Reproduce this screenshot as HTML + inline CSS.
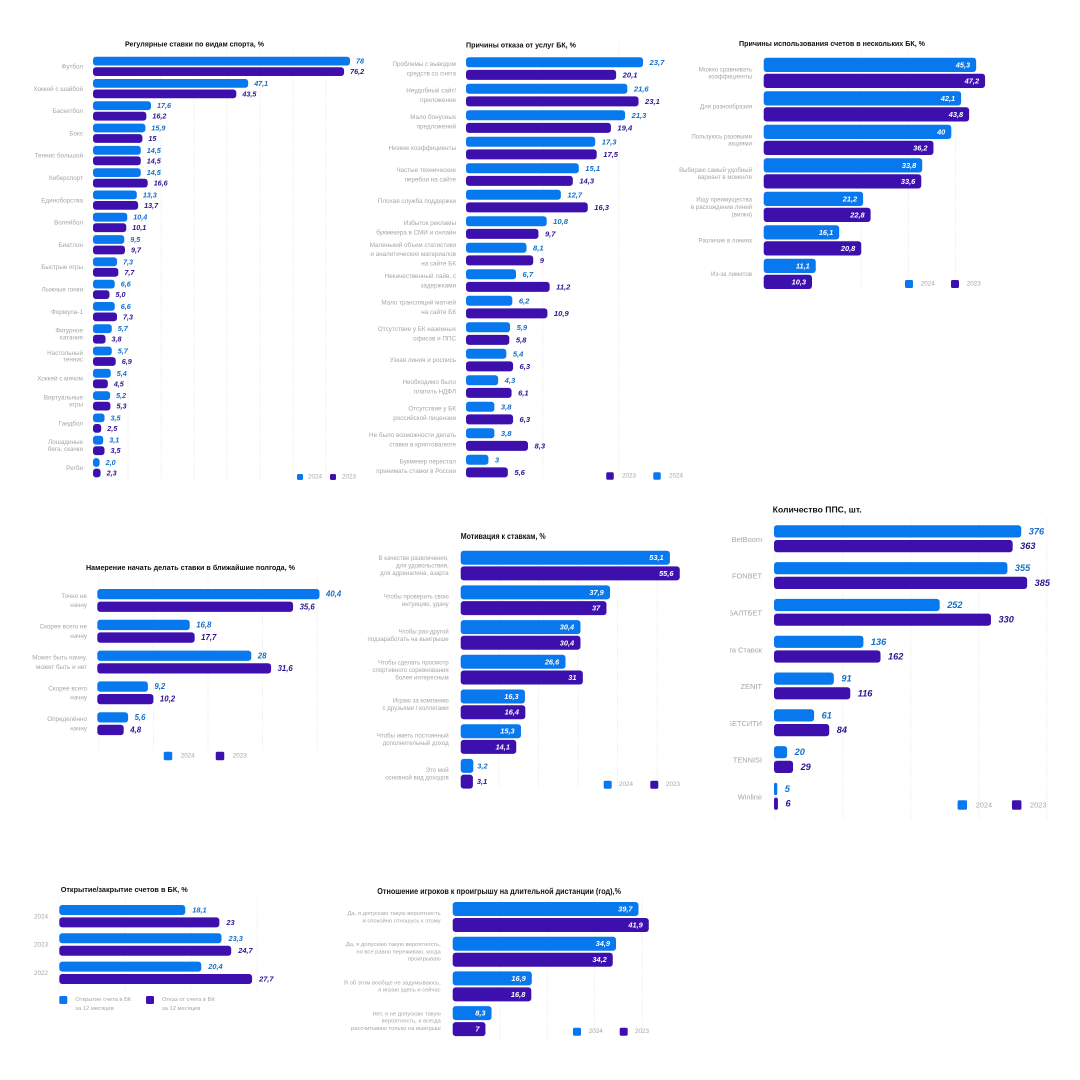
<!DOCTYPE html>
<html lang="ru">
<head>
<meta charset="utf-8">
<title>Исследование рынка ставок: сводные диаграммы</title>
<style>
  html, body { margin: 0; padding: 0; background: #ffffff; }
  svg { display: block; width: 1080px; height: 1080px; font-family: "Liberation Sans", "Noto Sans CJK JP", sans-serif; }
</style>
</head>
<body>
<svg id="charts" xmlns="http://www.w3.org/2000/svg" width="1080" height="1080" viewBox="0 0 1080 1080">
  <rect x="0" y="0" width="1080" height="1080" fill="#ffffff"></rect>
  <defs>
    <clipPath id="pps-label-clip"><rect x="730" y="500" width="50" height="330"></rect></clipPath>
  </defs>
</svg>
<script>
/* ---------- data: sports ---------- */
const sportCategories = ["Футбол","Хоккей с шайбой","Баскетбол","Бокс","Теннис большой","Киберспорт","Единоборства","Волейбол","Биатлон","Быстрые игры","Лыжные гонки","Формула-1","Фигурное|катание","Настольный|теннис","Хоккей с мячом","Виртуальные|игры","Гандбол","Лошадиные|бега, скачки","Регби"];
const sportValues2024 = [78,47.1,17.6,15.9,14.5,14.5,13.3,10.4,9.5,7.3,6.6,6.6,5.7,5.7,5.4,5.2,3.5,3.1,2.0];
const sportValues2023 = [76.2,43.5,16.2,15,14.5,16.6,13.7,10.1,9.7,7.7,5.0,7.3,3.8,6.9,4.5,5.3,2.5,3.5,2.3];
const sportTicks = [0,10,20,30,40,50,60,70];

/* ---------- data: refusal reasons ---------- */
const refusalCategories = ["Проблемы с выводом|средств со счета","Неудобный сайт/|приложение","Мало бонусных|предложений","Низкие коэффициенты","Частые технические|перебои на сайте","Плохая служба поддержки","Избыток рекламы|букмекера в СМИ и онлайн","Маленький объем статистики|и аналитических материалов|на сайте БК","Некачественный лайв, с|задержками","Мало трансляций матчей|на сайте БК","Отсутствие у БК наземных|офисов и ППС","Узкая линия и роспись","Необходимо было|платить НДФЛ","Отсутствие у БК|российской лицензии","Не было возможности делать|ставки в криптовалюте","Букмекер перестал|принимать ставки в России"];
const refusalValues2024 = [23.7,21.6,21.3,17.3,15.1,12.7,10.8,8.1,6.7,6.2,5.9,5.4,4.3,3.8,3.8,3];
const refusalValues2023 = [20.1,23.1,19.4,17.5,14.3,16.3,9.7,9,11.2,10.9,5.8,6.3,6.1,6.3,8.3,5.6];
const refusalTicks = [0,10,20];

/* ---------- data: several accounts ---------- */
const accountsCategories = ["Можно сравнивать|коэффициенты","Для разнообразия","Пользуюсь разовыми|акциями","Выбираю самый удобный|вариант в моменте","Ищу преимущества|в расхождении линий|(вилки)","Различие в линиях","Из-за лимитов"];
const accountsValues2024 = [45.3,42.1,40,33.8,21.2,16.1,11.1];
const accountsValues2023 = [47.2,43.8,36.2,33.6,22.8,20.8,10.3];
const accountsTicks = [20,30,40];

/* ---------- data: intention ---------- */
const intentCategories = ["Точно не|начну","Скорее всего не|начну","Может быть начну,|может быть и нет","Скорее всего|начну","Определённо|начну"];
const intentValues2024 = [40.4,16.8,28,9.2,5.6];
const intentValues2023 = [35.6,17.7,31.6,10.2,4.8];
const intentTicks = [0,10,20,30,40];

/* ---------- data: motivation ---------- */
const motiveCategories = ["В качестве развлечения,|для удовольствия,|для адреналина, азарта","Чтобы проверить свою|интуицию, удачу","Чтобы раз-другой|подзаработать на выигрыше","Чтобы сделать просмотр|спортивного соревнования|более интересным","Играю за компанию|с друзьями / коллегами","Чтобы иметь постоянный|дополнительный доход","Это мой|основной вид доходов"];
const motiveValues2024 = [53.1,37.9,30.4,26.6,16.3,15.3,3.2];
const motiveValues2023 = [55.6,37,30.4,31,16.4,14.1,3.1];
const motiveTicks = [10,20,30,40,50];

/* ---------- data: betting shops ---------- */
const shopCategories = ["BetBoom","FONBET","БАЛТБЕТ","Лига Ставок","ZENIT","БЕТСИТИ","TENNISI","Winline"];
const shopValues2024 = [376,355,252,136,91,61,20,5];
const shopValues2023 = [363,385,330,162,116,84,29,6];
const shopTicks = [0,100,200,300,400];

/* ---------- data: open / close accounts ---------- */
const openCategories = ["2024","2023","2022"];
const openValues = [18.1,23.3,20.4];
const closeValues = [23,24.7,27.7];
const openTicks = [0,10,20,30];

/* ---------- data: attitude to losing ---------- */
const lossCategories = ["Да, я допускаю такую вероятность|и спокойно отношусь к этому","Да, я допускаю такую вероятность,|но все равно переживаю, когда|проигрываю","Я об этом вообще не задумываюсь,|я играю здесь и сейчас","Нет, я не допускаю такую|вероятность, я всегда|рассчитываю только на выигрыш"];
const lossValues2024 = [39.7,34.9,16.9,8.3];
const lossValues2023 = [41.9,34.2,16.8,7];
const lossTicks = [10,20,30,40];

/* ---------- styles ---------- */
const BLUE = "#0878ee";
const PURPLE = "#3d10ae";
const BLUE_TEXT = "#1470c8";
const PURPLE_TEXT = "#2e1492";
const GREY_TEXT = "#a6a6a6";
const GRID = "#e4e4e4";

const charts = [
  { id:"sports", title:"Регулярные ставки по видам спорта, %", titleX:125, titleY:44, titleW:139, titleSize:7.5,
    cats:sportCategories, a:sportValues2024, b:sportValues2023, ticks:sportTicks,
    x0:93, scale:3.295, top:56.7, pitch:22.3, h:8.8, off:10.5, radius:3,
    gridX0:95, gridScale:3.3, gridTop:49, gridBottom:480,
    catX:83, catLh:6.7, catSize:6.3, valSize:7.2, valOff:6, oneDecimalBelow:10,
    legendY:477, swatch:6, legendSize:6.3,
    legend:[{c:BLUE,cx:300,tx:308,t:"2024"},{c:PURPLE,cx:333,tx:342,t:"2023"}] },
  { id:"refusal", title:"Причины отказа от услуг БК, %", titleX:466, titleY:45, titleW:110, titleSize:7.5,
    cats:refusalCategories, a:refusalValues2024, b:refusalValues2023, ticks:refusalTicks,
    x0:466, scale:7.47, top:57.3, pitch:26.5, h:10, off:12.6, radius:3,
    gridX0:467, gridScale:7.6, gridTop:43, gridBottom:478,
    catX:456, catLh:9.3, catSize:6.3, valSize:7.6, valOff:6.5,
    legendY:476, swatch:7.5, legendSize:6.3,
    legend:[{c:PURPLE,cx:610,tx:622,t:"2023"},{c:BLUE,cx:657,tx:669,t:"2024"}] },
  { id:"accounts", title:"Причины использования счетов в нескольких БК, %", titleX:739, titleY:43.3, titleW:186, titleSize:7.5,
    cats:accountsCategories, a:accountsValues2024, b:accountsValues2023, ticks:accountsTicks,
    x0:763.7, scale:4.69, top:57.7, pitch:33.5, h:14.3, off:16, radius:3,
    gridX0:766.4, gridScale:4.73, gridTop:50, gridBottom:290,
    catX:752, catLh:7.3, catSize:6.1, valSize:7.4, valOff:6, insideMin:0,
    legendY:284, swatch:8, legendSize:6.3,
    legend:[{c:BLUE,cx:909,tx:920.7,t:"2024"},{c:PURPLE,cx:955,tx:966.7,t:"2023"}] },
  { id:"intent", title:"Намерение начать делать ставки в ближайшие полгода, %", titleX:86, titleY:567.3, titleW:209, titleSize:7.5,
    cats:intentCategories, a:intentValues2024, b:intentValues2023, ticks:intentTicks,
    x0:97.3, scale:5.5, top:589, pitch:30.8, h:10.3, off:12.6, radius:3,
    gridX0:99, gridScale:5.45, gridTop:575, gridBottom:752,
    catX:87, catLh:9.3, catSize:6.3, valSize:7.8, valOff:6.5,
    legendY:756, swatch:8.5, legendSize:6.3,
    legend:[{c:BLUE,cx:168,tx:180.7,t:"2024"},{c:PURPLE,cx:220,tx:232.7,t:"2023"}] },
  { id:"motive", title:"Мотивация к ставкам, %", titleX:460.7, titleY:536.3, titleW:85, titleSize:8,
    cats:motiveCategories, a:motiveValues2024, b:motiveValues2023, ticks:motiveTicks,
    x0:460.7, scale:3.94, top:550.7, pitch:34.7, h:14, off:15.7, radius:3,
    gridX0:459.5, gridScale:3.95, gridTop:552, gridBottom:788,
    catX:448.7, catLh:7.5, catSize:6.1, valSize:7.4, valOff:6.3, insideMin:5, outsideOff:4,
    legendY:784.7, swatch:8, legendSize:6.3,
    legend:[{c:BLUE,cx:607.7,tx:619,t:"2024"},{c:PURPLE,cx:654.3,tx:666,t:"2023"}] },
  { id:"shops", title:"Количество ППС, шт.", titleX:772.7, titleY:509.7, titleW:89, titleSize:8.6,
    cats:shopCategories, a:shopValues2024, b:shopValues2023, ticks:shopTicks,
    x0:774, scale:0.6575, top:525.3, pitch:36.8, h:12.2, off:14.7, radius:3,
    gridX0:775, gridScale:0.68, gridTop:518, gridBottom:820,
    catX:762, catLh:8, catSize:7.4, valSize:9.2, valOff:7.5, catClip:"url(#pps-label-clip)",
    legendY:805, swatch:9.5, legendSize:7.4,
    legend:[{c:BLUE,cx:962.3,tx:975.7,t:"2024"},{c:PURPLE,cx:1016.7,tx:1030,t:"2023"}] },
  { id:"open-close", title:"Открытие/закрытие счетов в БК, %", titleX:60.7, titleY:889.7, titleW:127, titleSize:7.5,
    cats:openCategories, a:openValues, b:closeValues, ticks:openTicks,
    x0:59.3, scale:6.96, top:905, pitch:28.3, h:10, off:12.4, radius:3,
    gridX0:59, gridScale:6.6, gridTop:898, gridBottom:992,
    catX:48, catLh:7, catSize:6.3, valSize:7.4, valOff:7,
    legendY:1000, swatch:8, legendSize:5.8, legendLh:9,
    legend:[{c:BLUE,cx:63.3,tx:75.3,t:"Открытие счета в БК|за 12 месяцев"},{c:PURPLE,cx:150,tx:162,t:"Отказ от счета в БК|за 12 месяцев"}] },
  { id:"loss", title:"Отношение игроков к проигрышу на длительной дистанции (год),%", titleX:377.3, titleY:891.7, titleW:243.7, titleSize:7.8,
    cats:lossCategories, a:lossValues2024, b:lossValues2023, ticks:lossTicks,
    x0:452.7, scale:4.68, top:902, pitch:34.7, h:14, off:16, radius:3,
    gridX0:452.7, gridScale:4.73, gridTop:895, gridBottom:1040,
    catX:440.7, catLh:7.3, catSize:5.8, valSize:7.4, valOff:6, insideMin:0,
    legendY:1031.7, swatch:8, legendSize:6.3,
    legend:[{c:BLUE,cx:577,tx:588.7,t:"2024"},{c:PURPLE,cx:623.7,tx:635,t:"2023"}] }
];

const svg = document.getElementById("charts");
const NS = "http://www.w3.org/2000/svg";

function make(tag, parent, attrs) {
  const el = document.createElementNS(NS, tag);
  for (const k in attrs) el.setAttribute(k, attrs[k]);
  parent.appendChild(el);
  return el;
}

function formatValue(v, cfg) {
  const s = (cfg.oneDecimalBelow && v < cfg.oneDecimalBelow) ? v.toFixed(1) : String(v);
  return s.replace(".", ",");
}

function drawBar(parent, cfg, xScale, y, value, color, textColor, seriesName) {
  const w = Math.max(2, xScale(value) - cfg.x0);
  const bar = make("rect", parent, { x: cfg.x0, y: y, width: w, height: cfg.h, rx: Math.min(cfg.radius, w / 2), fill: color });
  
  

  const inside = cfg.insideMin !== undefined && value >= cfg.insideMin;
  const off = inside ? -cfg.valOff : (cfg.outsideOff !== undefined && cfg.insideMin !== undefined ? cfg.outsideOff : cfg.valOff);
  const label = make("text", parent, {
    x: cfg.x0 + w + off,
    y: y + cfg.h / 2,
    "text-anchor": inside ? "end" : "start",
    "dominant-baseline": "central",
    "font-size": cfg.valSize,
    "font-weight": "bold",
    "font-style": "italic",
    fill: inside ? "#ffffff" : textColor
  });
  label.textContent = formatValue(value, cfg);
  
  
}

function drawMultiline(parent, text, x, yCenter, lh, size, anchor) {
  const lines = text.split("|");
  const start = yCenter - (lines.length - 1) * lh / 2;
  lines.forEach(function (line, i) {
    const t = make("text", parent, {
      x: x, y: start + i * lh, "text-anchor": anchor, "dominant-baseline": "central",
      "font-size": size, fill: GREY_TEXT
    });
    t.textContent = line;
    
    
  });
}

charts.forEach(function (cfg) {
  const group = make("g", svg, {});
  
  

  const xScale = function (v) { return cfg.x0 + v * cfg.scale; };
  const gridScale = function (v) { return cfg.gridX0 + v * cfg.gridScale; };
  const yScale = function (i) { return cfg.top + i * cfg.pitch; };

  cfg.ticks.forEach(function (tick) {
    const line = make("line", group, {
      x1: gridScale(tick), x2: gridScale(tick), y1: cfg.gridTop, y2: cfg.gridBottom,
      stroke: GRID, "stroke-width": 0.8, "stroke-dasharray": "1 1.4"
    });
    
    
  });

  const title = make("text", group, {
    x: cfg.titleX, y: cfg.titleY, "dominant-baseline": "central", "font-size": cfg.titleSize,
    "font-weight": "bold", fill: "#111111", textLength: cfg.titleW, lengthAdjust: "spacingAndGlyphs"
  });
  title.textContent = cfg.title;
  
  

  const catGroup = make("g", group, {});
  
  
  if (cfg.catClip) catGroup.setAttribute("clip-path", cfg.catClip);

  cfg.cats.forEach(function (cat, i) {
    const y = yScale(i);
    const center = y + (cfg.off + cfg.h) / 2;
    drawMultiline(catGroup, cat, cfg.catX, center + 0.6, cfg.catLh, cfg.catSize, "end");
    drawBar(group, cfg, xScale, y, cfg.a[i], BLUE, BLUE_TEXT, 'series-a');
    drawBar(group, cfg, xScale, y + cfg.off, cfg.b[i], PURPLE, PURPLE_TEXT, 'series-b');
  });

  cfg.legend.forEach(function (entry) {
    const lg = make("g", group, {});
    
    
    const sw = make("rect", lg, {
      x: entry.cx - cfg.swatch / 2, y: cfg.legendY - cfg.swatch / 2,
      width: cfg.swatch, height: cfg.swatch, rx: 1.5, fill: entry.c
    });
    
    
    const lines = entry.t.split("|");
    const lh = cfg.legendLh || 8;
    lines.forEach(function (line, i) {
      const t = make("text", lg, {
        x: entry.tx, y: cfg.legendY + i * lh, "dominant-baseline": "central",
        "font-size": cfg.legendSize, fill: GREY_TEXT
      });
      t.textContent = line;
      
      
    });
  });
});
</script>
</body>
</html>
